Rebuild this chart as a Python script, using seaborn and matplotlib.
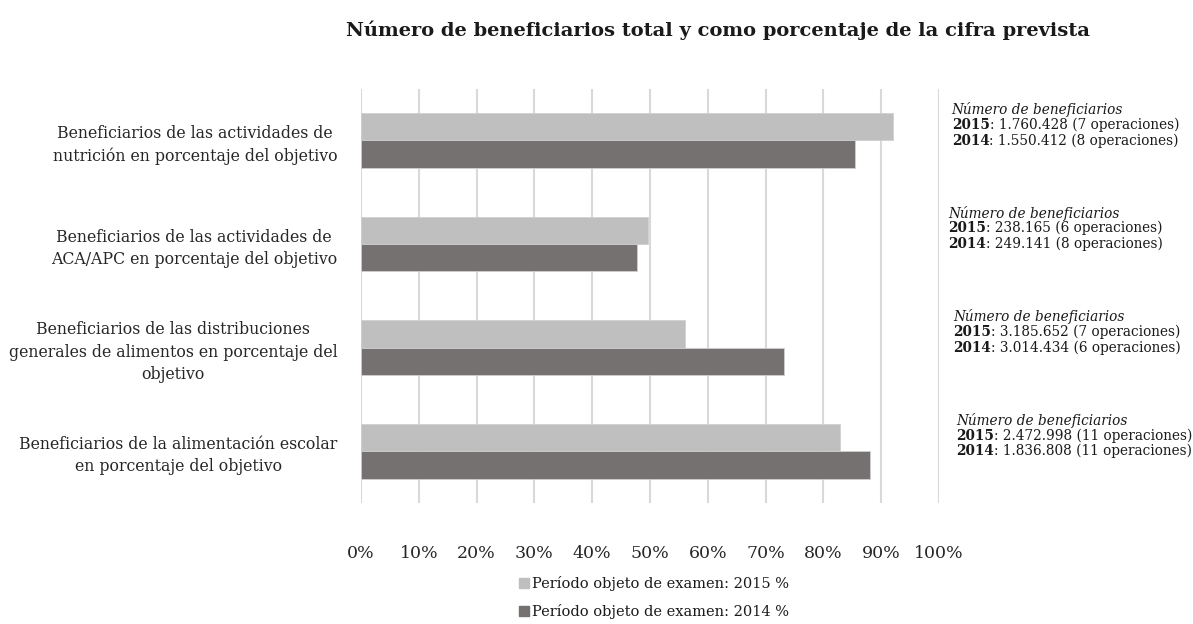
import matplotlib
matplotlib.use("Agg")
import matplotlib.pyplot as plt
import seaborn as sns
import pandas as pd

categories = [
    "Beneficiarios de las actividades de\nnutrición en porcentaje del objetivo",
    "Beneficiarios de las actividades de\nACA/APC en porcentaje del objetivo",
    "Beneficiarios de las distribuciones\ngenerales de alimentos en porcentaje del\nobjetivo",
    "Beneficiarios de la alimentación escolar\nen porcentaje del objetivo",
]
series_names = ["Período objeto de examen: 2015 %", "Período objeto de examen: 2014 %"]
pct_2015 = [92.0, 49.7, 56.0, 82.9]
pct_2014 = [85.4, 47.7, 73.1, 88.1]

beneficiaries_2015 = ["1.760.428 (7 operaciones)", "238.165 (6 operaciones)",
                      "3.185.652 (7 operaciones)", "2.472.998 (11 operaciones)"]
beneficiaries_2014 = ["1.550.412 (8 operaciones)", "249.141 (8 operaciones)",
                      "3.014.434 (6 operaciones)", "1.836.808 (11 operaciones)"]
note_x = [1.022, 1.016, 1.024, 1.030]

colors = ["#BFBFBF", "#767171"]

df = pd.DataFrame({
    "categoria": categories * 2,
    "serie": [series_names[0]] * 4 + [series_names[1]] * 4,
    "valor": pct_2015 + pct_2014,
})

sns.set_style("white")
plt.rcParams["font.family"] = ["DejaVu Serif"]
plt.rcParams["text.color"] = "#1a1a1a"

fig = plt.figure(figsize=(11.93, 6.24), dpi=100)
ax = fig.add_axes([0.3026, 0.194, 0.4845, 0.664])

sns.barplot(data=df, y="categoria", x="valor", hue="serie", order=categories,
            hue_order=series_names, palette=colors, orient="h", width=0.53,
            saturation=1, edgecolor="#d0d0d0", linewidth=0.6, ax=ax, legend=False)

ax.set_xlim(0, 100)
ax.set_xticks(range(0, 101, 10))
ax.set_xticklabels([f"{v}%" for v in range(0, 101, 10)], fontsize=12.5)
ax.grid(axis="x", color="#D9D9D9", linewidth=1.5)
ax.set_axisbelow(True)
for s in ax.spines.values():
    s.set_visible(False)
ax.set_xlabel("")
ax.set_ylabel("")
ax.tick_params(axis="x", length=0, pad=30)
ax.tick_params(axis="y", length=0, pad=17)
for lab in ax.get_yticklabels():
    lab.set_multialignment("center")
    lab.set_fontsize(11.3)
    lab.set_linespacing(1.4)

# side notes
tr = ax.get_yaxis_transform()
for i in range(len(categories)):
    ax.text(note_x[i], i - 0.37, "Número de beneficiarios", transform=tr,
            fontsize=9.8, style="italic", va="top", ha="left")
    for j, (yr, val) in enumerate([("2015", beneficiaries_2015[i]), ("2014", beneficiaries_2014[i])]):
        t = ax.text(note_x[i], i - 0.37 + 0.152 * (j + 1), yr, transform=tr,
                    fontsize=9.8, fontweight="bold", va="top", ha="left")
        ax.annotate(": " + val, xy=(1, 0), xycoords=t, fontsize=9.8,
                    va="bottom", ha="left")

fig.text(0.602, 0.952, "Número de beneficiarios total y como porcentaje de la cifra prevista",
         ha="center", va="center", fontsize=14, fontweight="bold")

handles = [plt.Rectangle((0, 0), 1, 1, color=c) for c in colors]
fig.legend(handles, series_names, loc="upper center", bbox_to_anchor=(0.548, 0.098),
           frameon=False, fontsize=10.5, handlelength=0.7, handleheight=0.7,
           handletextpad=0.2, labelspacing=0.9)

fig.savefig("out.png", dpi=100)
